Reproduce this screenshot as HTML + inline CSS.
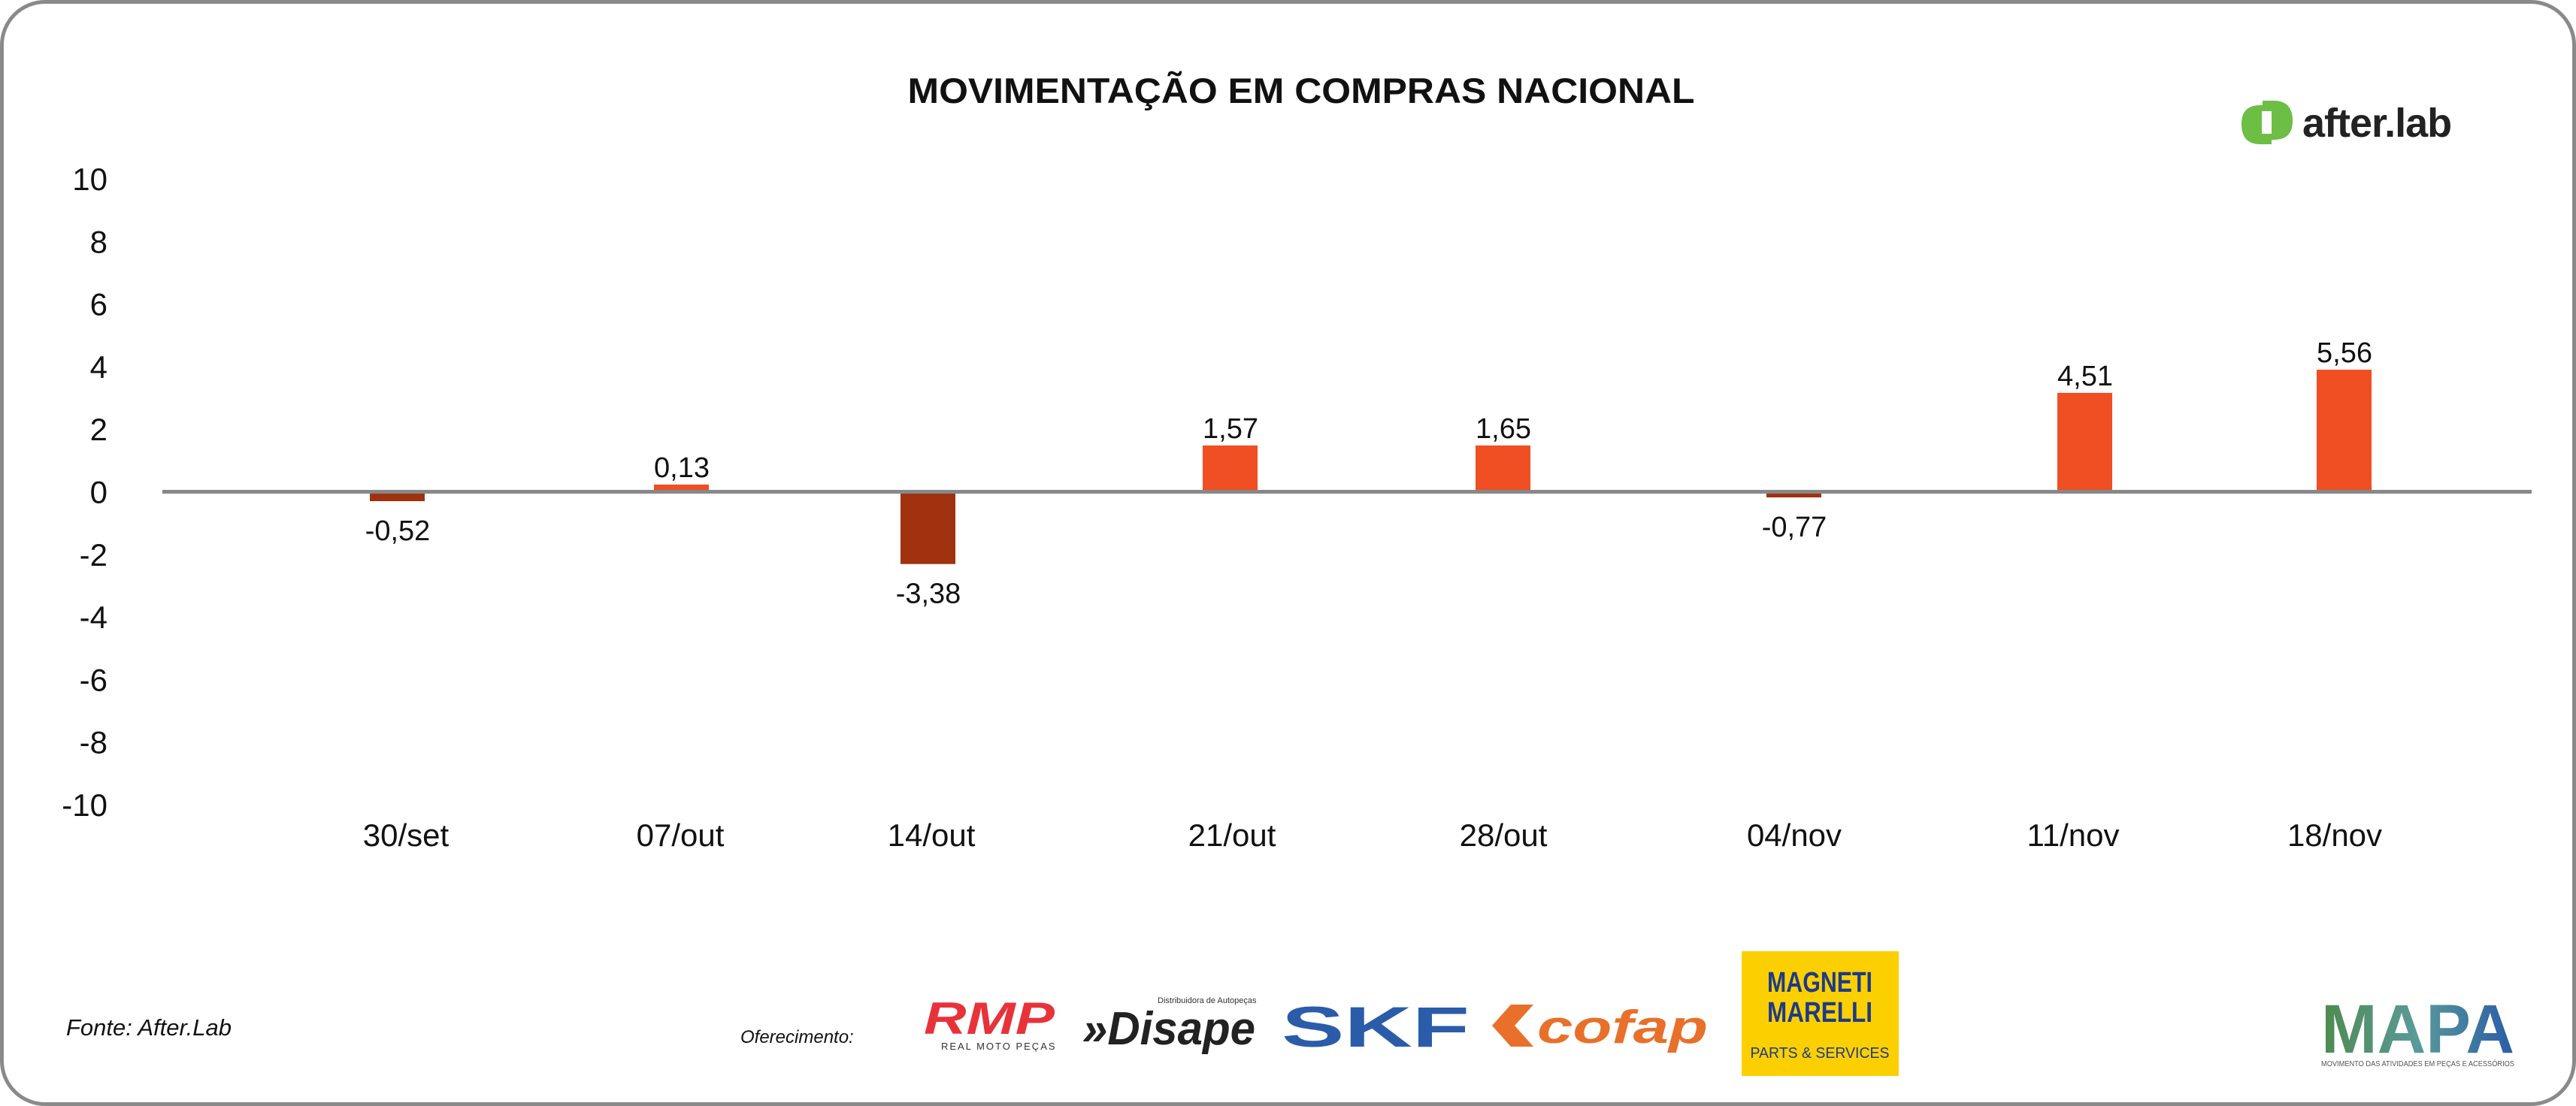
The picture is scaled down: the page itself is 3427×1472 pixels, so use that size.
<!DOCTYPE html>
<html><head><meta charset="utf-8"><style>
html,body{margin:0;padding:0;background:#fff;}
#frame{position:absolute;left:0;top:0;width:3427px;height:1472px;box-sizing:border-box;border:5px solid #8a8a8a;border-radius:60px;background:#fff;overflow:hidden;font-family:"Liberation Sans",sans-serif;}
svg text{font-family:"Liberation Sans",sans-serif;}
</style></head><body>
<div id="frame">
<svg id="chart" width="3427" height="1472" style="position:absolute;left:-5px;top:-5px">
<text x="1731" y="137" text-anchor="middle" font-size="47" font-weight="bold" fill="#111" textLength="1047" lengthAdjust="spacingAndGlyphs">MOVIMENTAÇÃO EM COMPRAS NACIONAL</text>
<g>
<path d="M2982 165 q0-25 25-25 h15 v52 h-15 q-25 0-25-27z" fill="#6cbe45"/>
<path d="M3050 165 q0 25-25 25 h-15 v-52 h15 q25 0 25 27z" fill="#6cbe45" transform="translate(0,-4)"/>
<rect x="3009" y="148" width="13" height="30" fill="#fff"/>
<text x="3063" y="182" font-size="54" font-weight="bold" fill="#222" letter-spacing="-1">after.lab</text>
</g>
<g id="yaxis"></g>
<g id="bars"></g>
<g id="xaxis"></g>
<text x="88" y="1378" font-size="31" font-style="italic" fill="#111">Fonte: After.Lab</text>
<text x="985" y="1388" font-size="24" font-style="italic" fill="#111">Oferecimento:</text>
<g>
<text x="1229" y="1376" font-size="60" font-weight="bold" font-style="italic" fill="#e8323a" textLength="174" lengthAdjust="spacingAndGlyphs">RMP</text>
<text x="1252" y="1397" font-size="13" fill="#333" letter-spacing="2">REAL MOTO PEÇAS</text>
</g>
<g>
<text x="1440" y="1390" font-size="62" font-weight="bold" font-style="italic" fill="#222" textLength="230" lengthAdjust="spacingAndGlyphs">»Disape</text>
<text x="1540" y="1335" font-size="11" fill="#333">Distribuidora de Autopeças</text>
</g>
<text x="1705" y="1393" font-size="76" font-weight="bold" fill="#2a5caa" textLength="250" lengthAdjust="spacingAndGlyphs">SKF</text>
<g>
<path d="M2010 1337 h30 l-25 28 l25 28 h-30 l-25 -28z" fill="#e8702a"/>
<text x="2045" y="1388" font-size="62" font-weight="bold" font-style="italic" fill="#e8702a" textLength="227" lengthAdjust="spacingAndGlyphs">cofap</text>
</g>
<g>
<rect x="2317" y="1266" width="209" height="166" fill="#fcd000"/>
<text x="2421" y="1320" text-anchor="middle" font-size="38" font-weight="bold" fill="#1d3a8a" textLength="140" lengthAdjust="spacingAndGlyphs">MAGNETI</text>
<text x="2421" y="1360" text-anchor="middle" font-size="38" font-weight="bold" fill="#1d3a8a" textLength="140" lengthAdjust="spacingAndGlyphs">MARELLI</text>
<text x="2421" y="1408" text-anchor="middle" font-size="20" fill="#1d3a8a" textLength="185" lengthAdjust="spacingAndGlyphs">PARTS &amp; SERVICES</text>
</g>
<g>
<defs><linearGradient id="mg" x1="0" x2="1"><stop offset="0" stop-color="#4f8a4e"/><stop offset="0.5" stop-color="#5a9a9a"/><stop offset="1" stop-color="#2a5ca8"/></linearGradient></defs>
<text x="3088" y="1401" font-size="92" font-weight="bold" fill="url(#mg)" textLength="257" lengthAdjust="spacingAndGlyphs">MAPA</text>
<text x="3088" y="1419" font-size="10" fill="#555" textLength="257" lengthAdjust="spacingAndGlyphs">MOVIMENTO DAS ATIVIDADES EM PEÇAS E ACESSÓRIOS</text>
</g>
</svg>
</div>
<script>
const categories = ["30/set","07/out","14/out","21/out","28/out","04/nov","11/nov","18/nov"];
const valueLabels = ["-0,52","0,13","-3,38","1,57","1,65","-0,77","4,51","5,56"];
const barHeights = [-0.30, 0.23, -2.31, 1.48, 1.48, -0.18, 3.16, 3.90];
const yTicks = [10,8,6,4,2,0,-2,-4,-6,-8,-10];
const yMin = -10, yMax = 10;
const plotTop = 238, plotBottom = 1071, axisLeft = 216, axisRight = 3368;
const barCenters = [529, 907, 1235, 1637, 2000, 2387, 2774, 3119];
const labelCenters = [540, 905, 1239, 1639, 2000, 2387, 2758, 3106];
const NS = "http://www.w3.org/2000/svg";
function y(v){ return plotTop + (yMax - v) / (yMax - yMin) * (plotBottom - plotTop); }
function mk(tag, attrs, parent, txt){ const e=document.createElementNS(NS,tag); for(const k in attrs) e.setAttribute(k,attrs[k]); if(txt!==undefined) e.textContent=txt; parent.appendChild(e); return e; }
const ya=document.getElementById('yaxis'), bg=document.getElementById('bars'), xa=document.getElementById('xaxis');
yTicks.forEach(t=>{
  const el=mk('text',{x:143,y:y(t)+15,'text-anchor':'end','font-size':42,fill:'#111'},ya,String(t));
  
  
});
barHeights.forEach((v,i)=>{
  const y0=y(0), y1=y(v);
  const r=mk('rect',{x:barCenters[i]-37,y:Math.min(y0,y1),width:73,height:Math.abs(y1-y0),fill:v>=0?'#f04e23':'#a0320f'},bg);
  
  
  let ly = v>=0 ? y1-10 : Math.max(y1+52, 708);
  const t=mk('text',{x:barCenters[i],y:ly,'text-anchor':'middle','font-size':38,fill:'#111'},bg,valueLabels[i]);
  
  
});
const zl=mk('line',{x1:axisLeft,x2:axisRight,y1:y(0),y2:y(0),stroke:'#888','stroke-width':5},xa);


categories.forEach((c,i)=>{
  const t=mk('text',{x:labelCenters[i],y:1126,'text-anchor':'middle','font-size':42,fill:'#111'},xa,c);
  
  
});
</script>
</body></html>
